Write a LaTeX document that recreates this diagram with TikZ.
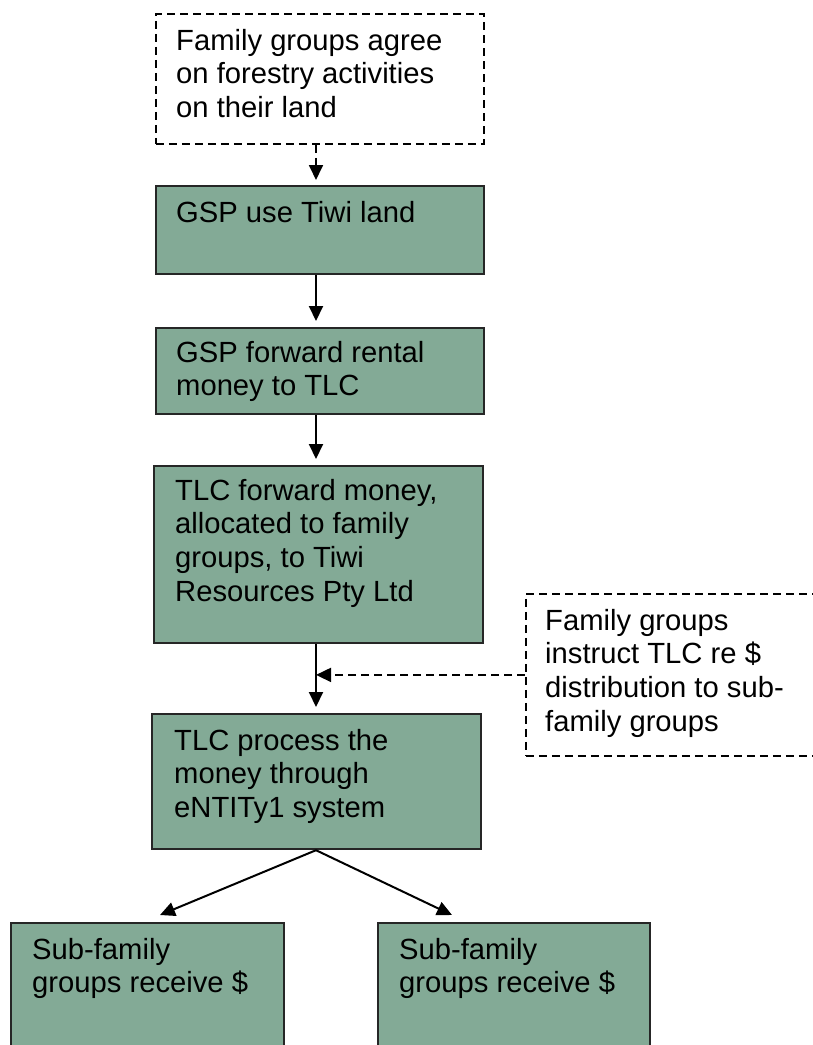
\documentclass[tikz,border=0pt]{standalone}
\usepackage{fontspec}
\setmainfont{Liberation Sans}
\usetikzlibrary{arrows.meta,calc}
\definecolor{boxgreen}{RGB}{131,170,150}
\begin{document}
\begin{tikzpicture}[x=1pt,y=-1pt,
  box/.style={draw=black!85, line width=2.2pt, fill=boxgreen, inner sep=0pt, anchor=north west},
  dbox/.style={draw=black, line width=1.8pt, dash pattern=on 8pt off 5pt, inner sep=0pt, anchor=north west},
  txt/.style={anchor=north west, inner sep=0pt, align=left, font=\fontsize{29.2}{33.6}\selectfont},
  arr/.style={line width=2pt, -{Triangle[length=15pt,width=14pt]}},
  darr/.style={arr, line width=1.8pt, dash pattern=on 8pt off 5pt}]
\useasboundingbox (0,0) rectangle (813,1045);
% boxes
\node[dbox, minimum width=328pt, minimum height=130pt] (top) at (155,13) {};
\node[box, minimum width=328pt, minimum height=88pt] (b2) at (155,185) {};
\node[box, minimum width=328pt, minimum height=86pt] (b3) at (155,327) {};
\node[box, minimum width=329pt, minimum height=177pt] (b4) at (153,465) {};
\node[box, minimum width=329pt, minimum height=135pt] (b5) at (151,713) {};
\node[box, minimum width=273pt, minimum height=140pt] (b6) at (10,922) {};
\node[box, minimum width=272pt, minimum height=140pt] (b7) at (377,922) {};
\node[dbox, minimum width=300pt, minimum height=162pt] (rb) at (525,593) {};
% texts
\node[txt] (topt) at ($(top.north west)+(21,16)$) {Family groups agree\\on forestry activities\\on their land};
\node[txt] (b2t) at ($(b2.north west)+(21,16)$) {GSP use Tiwi land};
\node[txt] (b3t) at ($(b3.north west)+(21,14)$) {GSP forward rental\\money to TLC};
\node[txt] (b4t) at ($(b4.north west)+(22,14)$) {TLC forward money,\\allocated to family\\groups, to Tiwi\\Resources Pty Ltd};
\node[txt] (b5t) at ($(b5.north west)+(23,16)$) {TLC process the\\money through\\eNTITy1 system};
\node[txt] (b6t) at ($(b6.north west)+(22,16)$) {Sub-family\\groups receive \$};
\node[txt] (b7t) at ($(b7.north west)+(22,16)$) {Sub-family\\groups receive \$};
\node[txt] (rbt) at ($(rb.north west)+(20,16)$) {Family groups\\instruct TLC re \$\\distribution to sub-\\family groups};
% connectors
\coordinate (a2) at (316,185);
\draw[darr, shorten >=5pt] (top.south -| a2) -- (b2.north -| a2);
\draw[arr, shorten >=6pt] (b2.south -| a2) -- (b3.north -| a2);
\draw[arr, shorten >=6pt] (b3.south -| a2) -- (b4.north -| a2);
\draw[arr, shorten >=6pt] (b4.south -| a2) -- (b5.north -| a2);
\draw[darr] (rb.west) -- (rb.west -| a2);
\coordinate (tipL) at (160,915);
\coordinate (tipR) at (452,915);
\draw[arr] (b5.south -| a2) -- (tipL);
\draw[arr] (b5.south -| a2) -- (tipR);
\end{tikzpicture}
\end{document}
